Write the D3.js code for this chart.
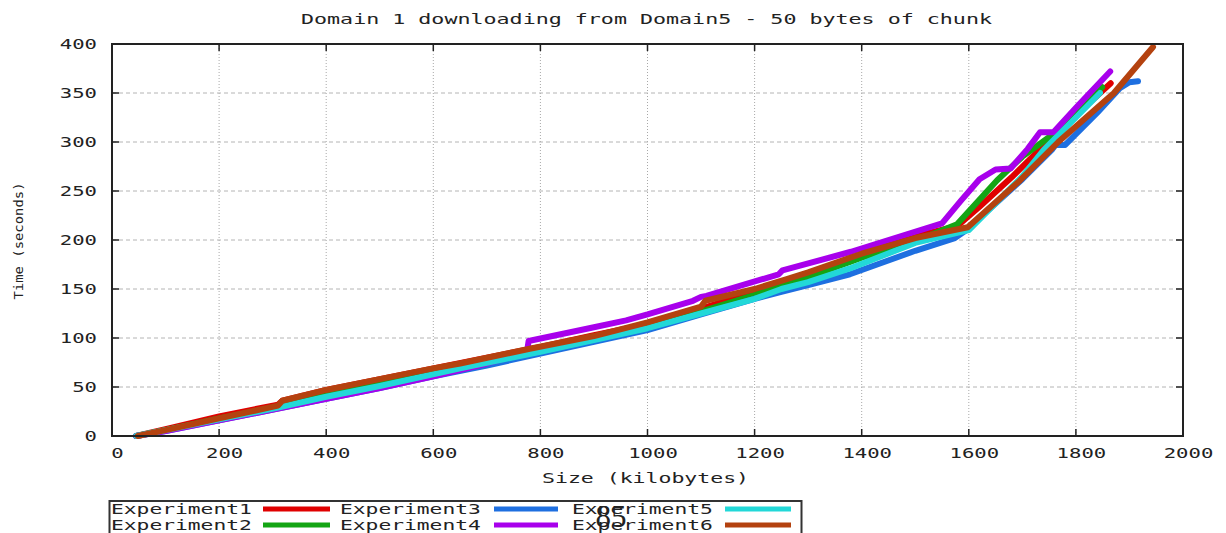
<!DOCTYPE html>
<html>
<head>
<meta charset="utf-8">
<script src="https://cdn.jsdelivr.net/npm/d3@7"></script>
<style>
  html, body { margin: 0; padding: 0; background: #fff; }
  svg { display: block; }
  text { font-family: "DejaVu Sans Mono", "Liberation Mono", monospace; fill: #222; }
</style>
</head>
<body>
<svg id="chart" width="1226" height="533"></svg>
<script>
// Download time (seconds) against downloaded size (kilobytes), one run per experiment.
const titleText = "Domain 1 downloading from Domain5 - 50 bytes of chunk";
const xLabel = "Size (kilobytes)";
const yLabel = "Time (seconds)";
const xTicks = [0, 200, 400, 600, 800, 1000, 1200, 1400, 1600, 1800, 2000];
const yTicks = [0, 50, 100, 150, 200, 250, 300, 350, 400];
const seriesNames = ["Experiment1", "Experiment2", "Experiment3", "Experiment4", "Experiment5", "Experiment6"];
const seriesColors = ["#e00000", "#14a514", "#1e6fe0", "#a800ec", "#22d8d8", "#b4420f"];

const exp1 = [[45,0],[100,7],[200,20],[310,32],[318,36],[400,47],[500,58],[600,69],[700,80],[800,91],[900,103],[1000,114],[1100,130],[1200,147],[1250,155],[1300,165],[1400,185],[1500,204],[1578,214],[1620,234],[1680,264],[1760,307],[1865,360]];
const exp2 = [[45,0],[100,6],[200,18],[310,30],[318,34],[400,45],[500,56],[600,67],[700,78],[800,89],[900,100],[1000,112],[1100,127],[1200,144],[1300,162],[1400,182],[1500,199],[1578,216],[1653,261],[1700,285],[1765,311],[1849,356]];
const exp3 = [[45,0],[100,5],[200,16],[310,28],[400,38],[500,49],[600,61],[700,72],[800,84],[900,96],[1000,108],[1100,124],[1200,140],[1250,147],[1300,154],[1378,165],[1500,189],[1574,202],[1595,210],[1700,262],[1755,292],[1762,297],[1780,297],[1840,330],[1882,355],[1900,361],[1916,362]];
const exp4 = [[45,0],[100,5],[200,16],[310,28],[400,38],[500,49],[600,61],[700,74],[775,86],[778,97],[900,111],[960,118],[1000,124],[1085,138],[1100,142],[1110,143],[1245,165],[1252,169],[1380,188],[1550,217],[1585,240],[1620,262],[1650,272],[1678,273],[1710,293],[1733,310],[1758,310],[1800,335],[1864,372]];
const exp5 = [[45,0],[100,6],[200,17],[310,29],[400,40],[500,51],[650,69],[800,86],[900,98],[1000,110],[1100,125],[1200,140],[1250,150],[1300,157],[1378,171],[1500,197],[1600,210],[1700,265],[1740,292],[1800,325],[1845,350]];
const exp6 = [[48,0],[100,6],[200,18],[310,31],[318,36],[400,47],[500,58],[600,69],[650,74],[780,89],[900,102],[1000,116],[1100,132],[1108,138],[1200,150],[1260,160],[1300,167],[1400,186],[1500,202],[1598,213],[1696,261],[1767,300],[1871,350],[1944,397]];
const allSeries = [exp1, exp2, exp3, exp4, exp5, exp6];

const svg = d3.select("#chart");
const x = d3.scaleLinear().domain([0, 2000]).range([112, 1183]);
const y = d3.scaleLinear().domain([0, 400]).range([436, 44]);

// Stretch monospace glyphs to the wide terminal-font look
function wide(sel, adv) {
  sel.attr("textLength", function() { return this.textContent.length * adv; })
     .attr("lengthAdjust", "spacingAndGlyphs");
  return sel;
}

// Grid: dotted verticals, dashed horizontals
const grid = svg.append("g");
grid.selectAll("line.gx").data(xTicks.slice(1, -1)).join("line")
  .attr("x1", d => x(d)).attr("x2", d => x(d))
  .attr("y1", y(0)).attr("y2", y(400))
  .attr("stroke", "#a8a8a8").attr("stroke-width", 1).attr("stroke-dasharray", "1,2");
grid.selectAll("line.gy").data(yTicks.slice(1, -1)).join("line")
  .attr("x1", x(0)).attr("x2", x(2000))
  .attr("y1", d => y(d)).attr("y2", d => y(d))
  .attr("stroke", "#b4b4b4").attr("stroke-width", 1).attr("stroke-dasharray", "4,3");

// Data lines
const line = d3.line().x(d => x(d[0])).y(d => y(d[1]));
svg.append("g").selectAll("path").data(allSeries).join("path")
  .attr("d", line)
  .attr("fill", "none")
  .attr("stroke", (d, i) => seriesColors[i])
  .attr("stroke-width", 6)
  .attr("stroke-linejoin", "round")
  .attr("stroke-linecap", "round");

// Frame with mirrored inward ticks
const frame = svg.append("g").attr("stroke", "#222");
frame.append("rect")
  .attr("x", x(0)).attr("y", y(400))
  .attr("width", x(2000) - x(0)).attr("height", y(0) - y(400))
  .attr("fill", "none").attr("stroke-width", 2);
const tl = 7;
frame.selectAll("line.tb").data(xTicks.slice(1, -1)).join("line")
  .attr("x1", d => x(d)).attr("x2", d => x(d)).attr("y1", y(0)).attr("y2", y(0) - tl).attr("stroke-width", 1.5);
frame.selectAll("line.tt").data(xTicks.slice(1, -1)).join("line")
  .attr("x1", d => x(d)).attr("x2", d => x(d)).attr("y1", y(400)).attr("y2", y(400) + tl).attr("stroke-width", 1.5);
frame.selectAll("line.tl").data(yTicks.slice(1, -1)).join("line")
  .attr("x1", x(0)).attr("x2", x(0) + tl).attr("y1", d => y(d)).attr("y2", d => y(d)).attr("stroke-width", 1.5);
frame.selectAll("line.tr").data(yTicks.slice(1, -1)).join("line")
  .attr("x1", x(2000)).attr("x2", x(2000) - tl).attr("y1", d => y(d)).attr("y2", d => y(d)).attr("stroke-width", 1.5);

// Tick labels
svg.append("g").selectAll("text").data(xTicks).join("text")
  .attr("x", d => x(d) + 5.5).attr("y", 458)
  .attr("text-anchor", "middle").attr("font-size", 14)
  .text(d => d).call(wide, 12.4);
svg.append("g").selectAll("text").data(yTicks).join("text")
  .attr("x", 97).attr("y", d => y(d) + 5)
  .attr("text-anchor", "end").attr("font-size", 14)
  .text(d => d).call(wide, 12.4);

// Title and axis titles
svg.append("text").attr("x", 301).attr("y", 24).attr("font-size", 14)
  .attr("textLength", 691).attr("lengthAdjust", "spacingAndGlyphs").text(titleText);
svg.append("text").attr("x", 542).attr("y", 483).attr("font-size", 14)
  .attr("textLength", 207).attr("lengthAdjust", "spacingAndGlyphs").text(xLabel);
svg.append("text").attr("transform", "translate(23,241) rotate(-90)")
  .attr("text-anchor", "middle").attr("font-size", 13)
  .attr("textLength", 117).attr("lengthAdjust", "spacingAndGlyphs").text(yLabel);

// Legend: three columns, two rows
const legend = svg.append("g");
legend.append("rect").attr("x", 109.5).attr("y", 501).attr("width", 692).attr("height", 60)
  .attr("fill", "none").attr("stroke", "#333").attr("stroke-width", 2);
const colText = [111, 340, 572];
const colLine = [[263, 330], [494, 558], [725, 791]];
const rowBase = [514, 529.5];
const rowLine = [509, 525];
seriesNames.forEach((name, i) => {
  const c = Math.floor(i / 2), r = i % 2;
  legend.append("text").attr("x", colText[c]).attr("y", rowBase[r]).attr("font-size", 14)
    .text(name).call(wide, 12.8);
  legend.append("line")
    .attr("x1", colLine[c][0]).attr("x2", colLine[c][1])
    .attr("y1", rowLine[r]).attr("y2", rowLine[r])
    .attr("stroke", seriesColors[i]).attr("stroke-width", 5);
});

// Page number
svg.append("text").attr("x", 611).attr("y", 527).attr("text-anchor", "middle")
  .attr("font-size", 31).style("font-family", "'Liberation Serif', 'DejaVu Serif', serif")
  .attr("fill", "#111").text("85");
</script>
</body>
</html>
